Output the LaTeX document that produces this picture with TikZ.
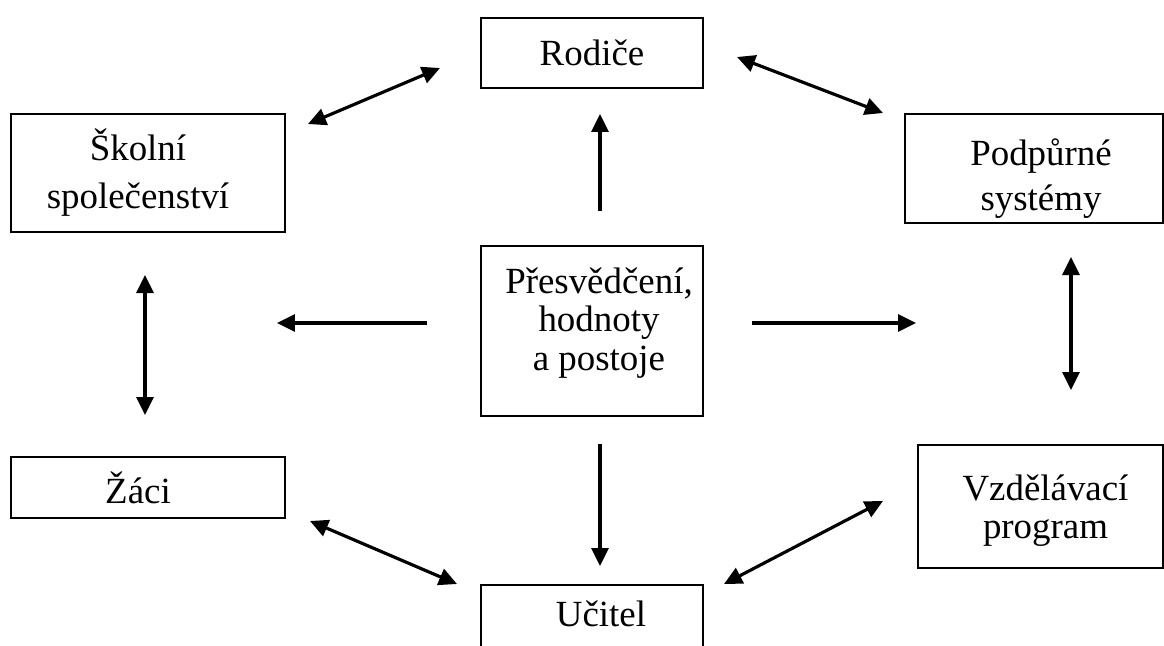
\documentclass[tikz,border=0pt]{standalone}
\usepackage{fontspec}
\setmainfont{Liberation Serif}
\usetikzlibrary{arrows.meta, positioning}
\tikzset{
    box/.style={draw, line width=1.1pt, inner sep=0pt},
    txt/.style={align=center, inner sep=0pt, font=\fontsize{21}{#1}\selectfont},
    txt/.default=25.5,
    both/.style={line width=1.8pt, {Triangle[length=0.36cm, width=0.34cm]}-{Triangle[length=0.36cm, width=0.34cm]}},
    one/.style={line width=1.8pt, -{Triangle[length=0.36cm, width=0.34cm]}}
}

\begin{document}
\begin{tikzpicture}[x=0.02cm, y=-0.02cm]
    \useasboundingbox (0,0) rectangle (1164,646);
    \clip (0,0) rectangle (1164,646);

    % Boxes
    \node[box, minimum width=4.44cm, minimum height=1.4cm,
        label={[txt]center:Rodiče}] (rodice) at (592,53) {};
    \node[box, minimum width=5.48cm, minimum height=2.36cm,
        label={[txt=27.3, xshift=-0.2cm]center:{Školní\\ společenství}}] (skolni) at (148,173) {};
    \node[box, minimum width=5.16cm, minimum height=2.18cm,
        label={[txt=25.6, xshift=0.14cm, yshift=-0.2cm]center:{Podpůrné\\ systémy}}] (podpurne) at (1034,168.5) {};
    \node[box, minimum width=4.44cm, minimum height=3.4cm,
        label={[txt=21.9, xshift=0.14cm, yshift=0.16cm]center:{Přesvědčení,\\ hodnoty\\ a postoje}}] (hodnoty) at (592,331) {};
    \node[box, minimum width=5.48cm, minimum height=1.22cm,
        label={[txt, xshift=-0.2cm]center:Žáci}] (zaci) at (148,487.5) {};
    \node[box, minimum width=4.9cm, minimum height=2.46cm,
        label={[txt=21.6, xshift=0.1cm, yshift=-0.08cm]center:{Vzdělávací\\ program}}] (program) at (1040.5,506.5) {};
    \node[box, minimum width=4.44cm, minimum height=2cm, anchor=north] (ucitel) at (592,584) {};
    \node[txt] (ucitel text) at (601,614) {Učitel};

    % Arrow ends
    \coordinate (s1) at (308,124); \coordinate (r1) at (440,68);
    \coordinate (r2) at (737,57);  \coordinate (p1) at (883,113);
    \coordinate (s2) at (145,275); \coordinate (z1) at (145,415);
    \coordinate (p2) at (1071,257); \coordinate (v1) at (1071,390);
    \coordinate (z2) at (310,521); \coordinate (u2) at (457,584);
    \coordinate (v2) at (883,501); \coordinate (u3) at (724,584);
    \coordinate (h1) at (600,211); \coordinate (r3) at (600,114);
    \coordinate (h2) at (427,323); \coordinate (l1) at (277,323);
    \coordinate (h3) at (752,323); \coordinate (r4) at (916,323);
    \coordinate (h4) at (600,444); \coordinate (u1) at (600,566);

    \foreach \a/\b in {s1/r1, r2/p1, s2/z1, p2/v1, z2/u2, v2/u3} {
        \draw[both] (\a) -- (\b);
    }
    \foreach \a/\b in {h1/r3, h2/l1, h3/r4, h4/u1} {
        \draw[one] (\a) -- (\b);
    }

\end{tikzpicture}
\end{document}
